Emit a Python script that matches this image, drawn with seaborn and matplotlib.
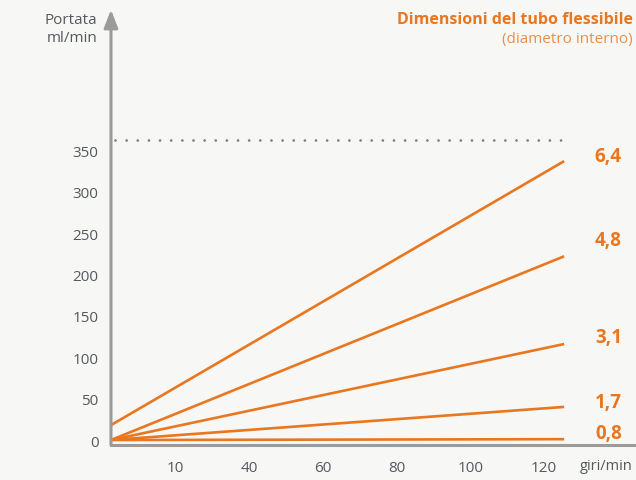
import matplotlib
matplotlib.use("Agg")
import matplotlib.pyplot as plt
import seaborn as sns
import pandas as pd

# ---- data ----
diameters = ["6,4", "4,8", "3,1", "1,7", "0,8"]
flow_start = [18, 0, 0, 0, 0]          # ml/min at left edge
flow_end = [337, 222, 116, 40, 1]      # ml/min at right end
label_offset = [6, 20, 8, 6, 8]
rpm_start = 2.5
rpm_end = 125.5
max_flow = 363                          # dotted reference line
y_ticks = [0, 50, 100, 150, 200, 250, 300, 350]
x_tick_pos = [20, 40, 60, 80, 100, 120]
x_tick_labels = ["10", "40", "60", "80", "100", "120"]

rows = []
for d, s, e in zip(diameters, flow_start, flow_end):
    rows.append({"diam": d, "rpm": rpm_start, "flow": s})
    rows.append({"diam": d, "rpm": rpm_end, "flow": e})
df = pd.DataFrame(rows)

ORANGE = "#E8771F"
LIGHT_ORANGE = "#EE8E45"
GRAY = "#9B9B9B"
TEXT = "#55595e"
BG = "#F7F7F6"

sns.set_theme(style="white")
plt.rcParams["font.family"] = ["Open Sans", "DejaVu Sans"]

fig = plt.figure(figsize=(6.36, 4.81), dpi=100, facecolor=BG)
ax = fig.add_axes([0.1745, 0.0728, 0.8255, 0.905])
ax.set_facecolor(BG)

sns.lineplot(data=df, x="rpm", y="flow", units="diam", estimator=None,
             color=ORANGE, linewidth=1.9, ax=ax, legend=False,
             solid_capstyle="butt")

ax.set_xlim(2.5, 145)
ax.set_ylim(-6, 520)

# dotted max line
ax.plot([rpm_start + 1, rpm_end], [max_flow, max_flow], linestyle=(0, (0.01, 4)),
        color="#808080", linewidth=2.0, dash_capstyle="round")

# labels at right of lines
for d, e, o in zip(diameters, flow_end, label_offset):
    ax.text(137.5, e + o, d, color=ORANGE, fontsize=13.5, fontweight="bold",
            ha="center", va="center")

ax.set_yticks(y_ticks)
ax.set_yticklabels([str(v) for v in y_ticks])
ax.set_xticks(x_tick_pos)
ax.set_xticklabels(x_tick_labels)
ax.tick_params(axis="both", length=0, labelsize=11, labelcolor=TEXT)
ax.tick_params(axis="y", pad=9)
ax.tick_params(axis="x", pad=11)
ax.set_xlabel("")
ax.set_ylabel("")

for side in ["top", "right", "left"]:
    ax.spines[side].set_visible(False)
ax.spines["bottom"].set_color(GRAY)
ax.spines["bottom"].set_linewidth(2.2)

# y axis with arrow
ax.annotate("", xy=(0, 1.0), xycoords="axes fraction",
            xytext=(0, 0.0), textcoords="axes fraction",
            arrowprops=dict(arrowstyle="-|>,head_length=0.9,head_width=0.35",
                            color=GRAY, lw=2.2, shrinkA=0, shrinkB=0))

fig.text(97 / 636, 1 - 20 / 481, "Portata", ha="right", va="center",
         color=TEXT, fontsize=11)
fig.text(97 / 636, 1 - 38 / 481, "ml/min", ha="right", va="center",
         color=TEXT, fontsize=11)
fig.text(633 / 636, 1 - 20 / 481, "Dimensioni del tubo flessibile",
         ha="right", va="center", color=ORANGE, fontsize=11.5, fontweight="bold")
fig.text(633 / 636, 1 - 40 / 481, "(diametro interno)",
         ha="right", va="center", color=LIGHT_ORANGE, fontsize=11)
fig.text(633 / 636, 1 - 467 / 481, "giri/min", ha="right", va="center",
         color=TEXT, fontsize=10.5)

fig.savefig("out.png", dpi=100, facecolor=BG)
